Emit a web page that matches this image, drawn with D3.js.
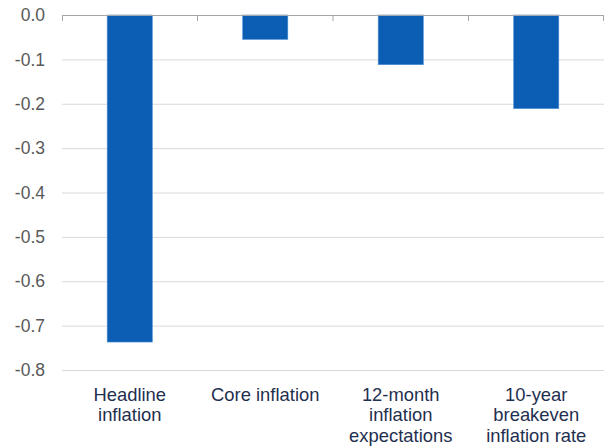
<!DOCTYPE html>
<html><head><meta charset="utf-8">
<script src="https://cdn.jsdelivr.net/npm/d3@7"></script>
<style>body{margin:0;background:#fff}svg{display:block}</style>
</head><body>
<svg id="c" width="604" height="447"></svg>
<script>
const categories = [["Headline","inflation"],["Core inflation"],["12-month","inflation","expectations"],["10-year","breakeven","inflation rate"]];
const values = [-0.737, -0.055, -0.112, -0.211];
const yTicks = [0, -0.1, -0.2, -0.3, -0.4, -0.5, -0.6, -0.7, -0.8];

(function () {
const svg = d3.select("#c");
const mLeft = 62, mRight = 604, mTop = 15, mBottom = 370;
const x = d3.scaleBand().domain(d3.range(values.length)).range([mLeft, mRight]).paddingInner(0.667).paddingOuter(0.3335);
const xb = d3.scaleBand().domain(d3.range(values.length)).range([mLeft, mRight]).padding(0);
const y = d3.scaleLinear().domain([0, -0.8]).range([mTop, mBottom]);

// gridlines
svg.append("g").selectAll("line").data(yTicks.slice(1)).join("line")
  .attr("x1", mLeft).attr("x2", mRight)
  .attr("y1", d => y(d) + 0.5).attr("y2", d => y(d) + 0.5)
  .attr("stroke", "#d9d9d9").attr("stroke-width", 1);

// y labels
svg.append("g").selectAll("text").data(yTicks).join("text")
  .attr("x", 45).attr("y", d => y(d)).attr("dy", "0.35em")
  .attr("text-anchor", "end")
  .attr("font-family", "Liberation Sans, Arial, sans-serif")
  .attr("font-size", 17.5).attr("fill", "#595959")
  .text(d => d3.format(".1f")(d).replace("−", "-"));

// bars
svg.append("g").selectAll("rect").data(values).join("rect")
  .attr("x", (d, i) => x(i)).attr("width", x.bandwidth())
  .attr("y", y(0)).attr("height", d => y(d) - y(0))
  .attr("fill", "#0b5eb4").attr("stroke", "#4d8fd4").attr("stroke-width", 0.6);

// zero axis line
svg.append("line").attr("x1", mLeft).attr("x2", mRight)
  .attr("y1", y(0) + 0.5).attr("y2", y(0) + 0.5)
  .attr("stroke", "#a6a6a6").attr("stroke-width", 1.2);
// category tick marks
const bounds = d3.range(values.length).map(i => xb(i)).concat([mRight - 0.5]);
svg.append("g").selectAll("line").data(bounds).join("line")
  .attr("x1", d => Math.max(d, mLeft + 0.5)).attr("x2", d => Math.max(d, mLeft + 0.5))
  .attr("y1", y(0)).attr("y2", y(0) + 6)
  .attr("stroke", "#a6a6a6").attr("stroke-width", 1);

// category labels
const cg = svg.append("g");
categories.forEach((lines, i) => {
  const cx = xb(i) + xb.bandwidth() / 2;
  const t = cg.append("text")
    .attr("x", cx).attr("y", 400.5)
    .attr("text-anchor", "middle")
    .attr("font-family", "Liberation Sans, Arial, sans-serif")
    .attr("font-size", 18.4).attr("fill", "#1f2f4f");
  lines.forEach((l, j) => t.append("tspan").attr("x", cx).attr("y", 400.5 + j * 20.7).text(l));
});
})();
</script>
</body></html>
